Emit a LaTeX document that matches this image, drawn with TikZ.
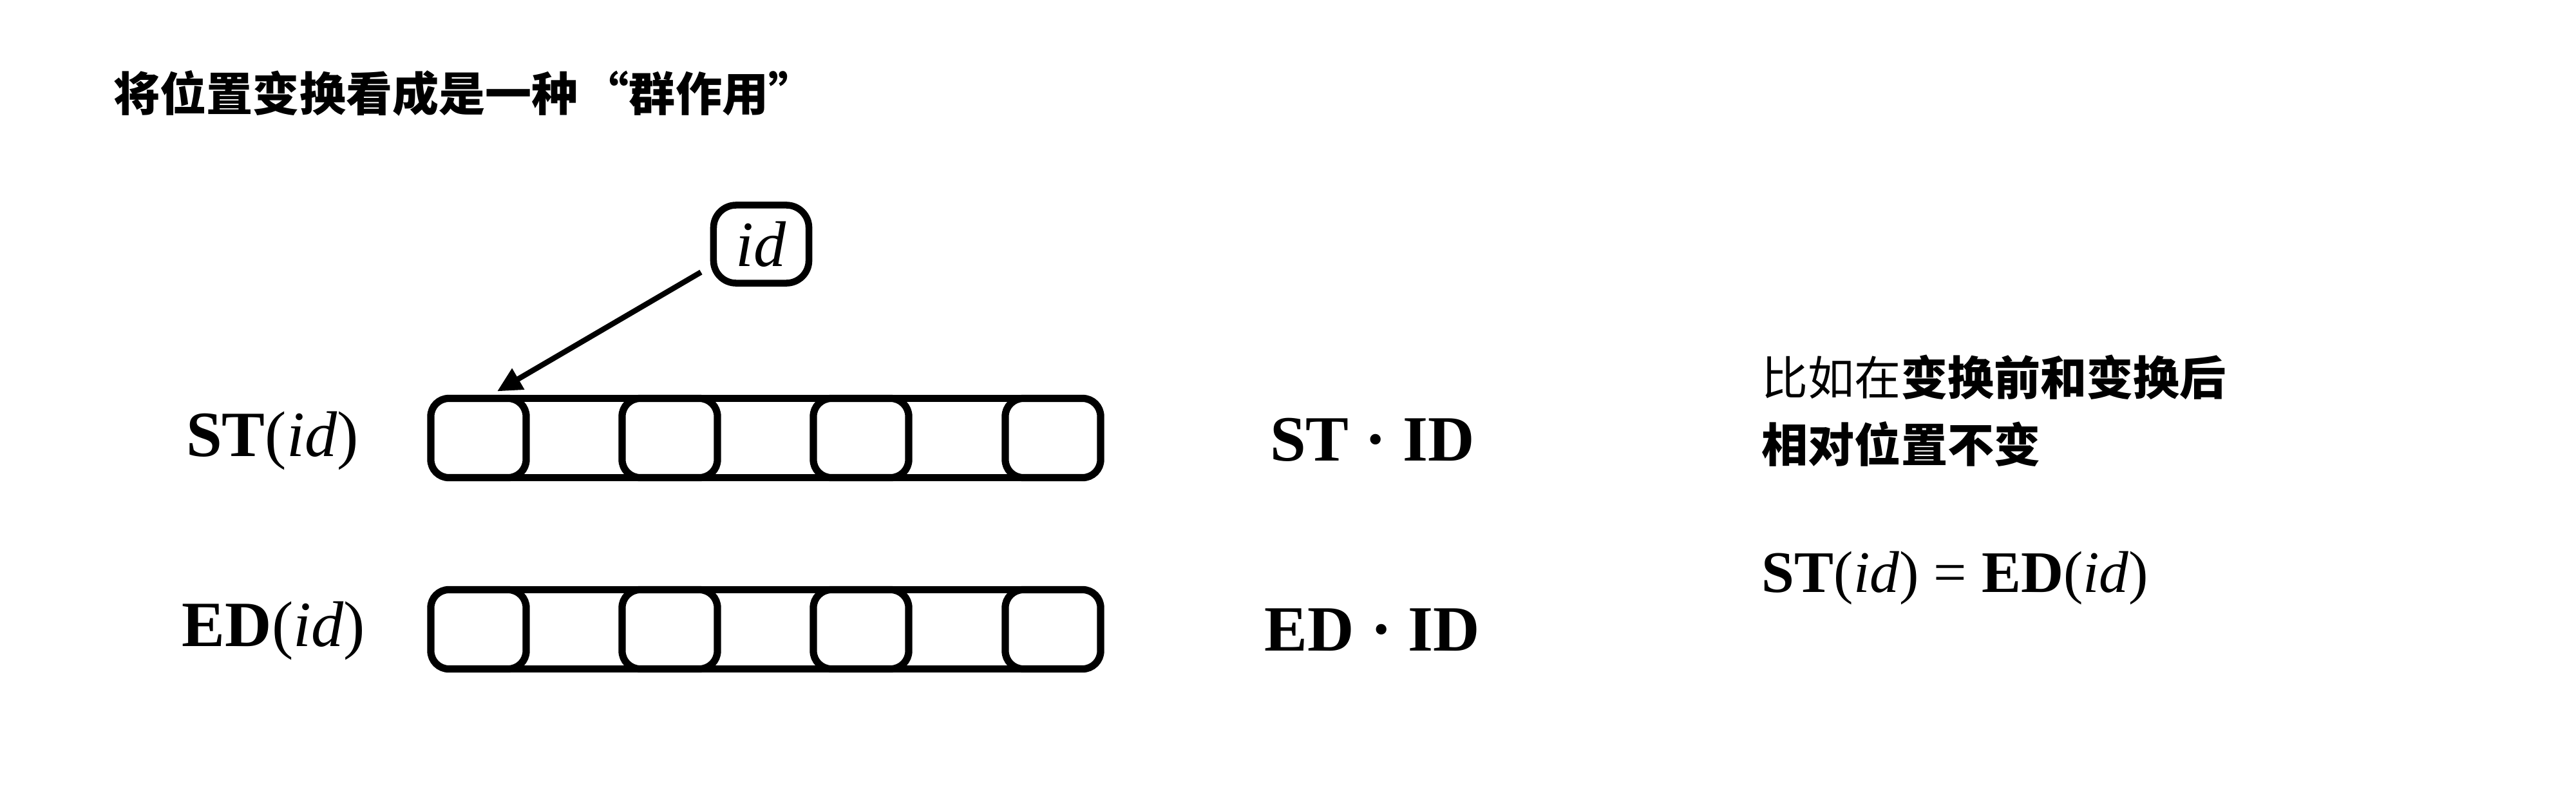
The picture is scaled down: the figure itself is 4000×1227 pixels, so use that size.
\documentclass[tikz,border=0pt]{standalone}
\usepackage{fontspec}
\setmainfont{Liberation Serif}
\newfontfamily\cjk{Noto Sans CJK SC}
\usetikzlibrary{arrows.meta}
\tikzset{
  cell/.style={draw, line width=3.2pt, rounded corners=0.28cm, minimum width=1.48cm, minimum height=1.23cm, inner sep=0pt, outer sep=0pt},
  link/.style={line width=3.2pt},
  lab/.style={font=\fontsize{28.5}{34}\selectfont, inner sep=0pt, anchor=base},
  eqlab/.style={font=\fontsize{26}{31}\selectfont, inner sep=0pt, anchor=base west},
  cjktext/.style={font=\fontsize{20.5}{25}\selectfont\cjk, inner sep=0pt, anchor=base west},
  idbox/.style={draw, line width=3pt, rounded corners=0.35cm, minimum width=1.48cm, minimum height=1.21cm, inner sep=0pt, outer sep=0pt, font=\fontsize{28.5}{34}\selectfont},
  arr/.style={line width=2.4pt, -{Triangle[length=0.38cm,width=0.36cm]}},
}
\begin{document}
\begin{tikzpicture}[x=0.01cm,y=-0.01cm]
\useasboundingbox (0,0) rectangle (4000,1227);
% title
\node[cjktext] (title) at (176,172) {\bfseries 将位置变换看成是一种\hspace{0.1em}“群作用”};
% bars
\foreach \i/\x in {1/743,2/1040,3/1337,4/1635} {
  \node[cell] (a\i) at (\x,680) {};
  \node[cell] (b\i) at (\x,977) {};
}
\draw[link] (a1.north) -- (a4.north) (a1.south) -- (a4.south);
\draw[link] (b1.north) -- (b4.north) (b1.south) -- (b4.south);
% id box and arrow
\node[idbox] (idb) at (1182,379) {\textit{id}};
\draw[arr] ([xshift=-0.195cm,yshift=0.17cm]idb.south west) -- ([xshift=0.29cm,yshift=0.11cm]a1.north);
% labels
\node[lab] (st) at (423,708) {\textbf{ST}(\textit{id})};
\node[lab] (ed) at (425,1003) {\textbf{ED}(\textit{id})};
\node[lab] (stid) at (2131,715) {\textbf{ST · ID}};
\node[lab] (edid) at (2131,1010) {\textbf{ED · ID}};
% right text
\node[cjktext] (r1) at (2735,613) {比如在\bfseries 变换前和变换后};
\node[cjktext] (r2) at (2735,717) {\bfseries 相对位置不变};
\node[eqlab] (eq) at (2735,919) {\textbf{ST}(\textit{id}) = \textbf{ED}(\textit{id})};
\end{tikzpicture}
\end{document}
